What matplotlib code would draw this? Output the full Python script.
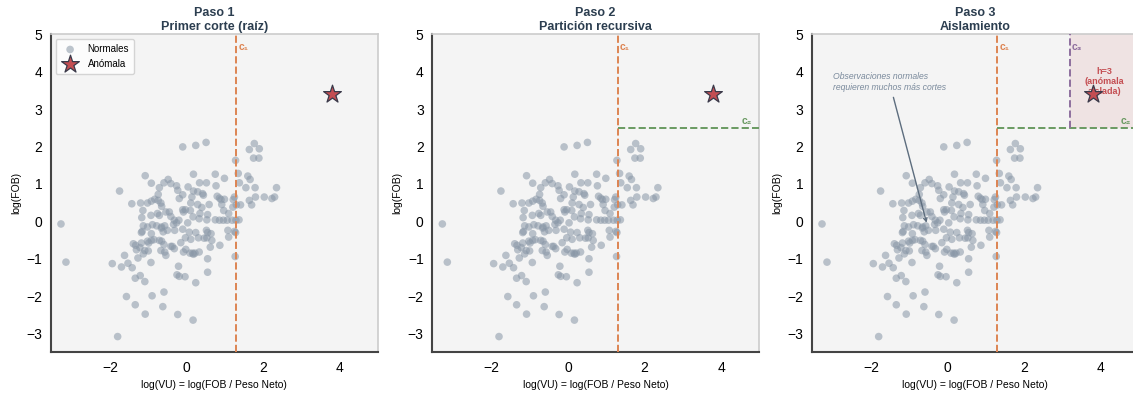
"""
Isolation forest intuition: three steps of recursive cuts on log(VU) vs log(FOB).
"""
import numpy as np
import matplotlib
matplotlib.use('Agg')
import matplotlib.pyplot as plt
from matplotlib.patches import Rectangle

plt.rcParams.update({
    'font.family': ['Liberation Sans'],
    'font.size': 9,
})

# normal observations (log VU, log FOB)
normal_x = [
    -3.28, -3.15, -1.75, -1.80, -1.94, -1.70, -1.62, -1.53, -1.42, -1.57,
    -1.34, -1.21, -1.09, -1.34, -1.08, -0.90, -0.93, -0.62, -0.59, -0.23,
    0.17, 0.24, -0.21, -0.25, -0.19, -0.04, 0.55, 0.55, -0.10, 0.24,
    0.51, 1.27, 1.28, 1.28, 1.64, 1.77, 1.90, 1.75, 1.89, 1.35,
    1.60, 1.66, 1.38, 1.55, 1.79, 1.80, 2.03, 2.23, 2.30, 2.35,
    1.64, 1.70, 1.41, 1.37, 1.25, 1.22, 1.21, 1.19, 1.06, 1.10,
    0.97, 0.86, 1.08, 1.10, 0.87, 0.99, 0.75, 0.77, 0.80, 0.86,
    0.90, 0.99, 0.92, 0.96, 0.75, 0.64, 0.66, 0.62, 0.52, 0.55,
    0.53, 0.55, 0.59, 0.52, 0.34, 0.18, 0.42, 0.44, 0.29, 0.18,
    0.04, 0.14, 0.11, 0.29, 0.40, 0.35, 0.33, 0.17, 0.10, -0.10,
    -0.03, -0.08, -0.10, -0.23, -0.26, -0.41, -0.48, -0.59, -0.71, -0.74,
    -0.74, -0.67, -0.65, -0.83, -0.92, -1.02, -1.20, -1.43, -1.08, -0.92,
    -0.19, -0.45, -0.54, -0.41, -0.32, -0.20, -0.26, -0.34, -0.31, -0.50,
    -0.66, -0.65, -0.61, -0.57, -0.71, -0.76, -0.93, -1.14, -1.17, -1.13,
    -1.16, -1.18, -1.02, -0.89, -0.78, -0.92, -0.85, -1.02, -0.99, -0.92,
    -0.71, -0.65, -0.59, -0.67, -0.57, -0.54, -0.41, -0.32, -0.37, -0.15,
    -0.03, 0.11, 0.07, -0.10, 0.03, 0.24, 0.31, 0.46, 0.53, -0.02,
    -0.08, 0.09, 0.18, 0.22, 0.16, 0.33, -1.18, -1.09, -1.00, -1.22,
    -1.33, -1.39, -1.27, -1.13, -1.31, 1.29, 1.25, 1.30,
]
normal_y = [
    -0.07, -1.09, 0.81, -3.08, -1.13, -1.22, -0.91, -1.12, -1.24, -2.01,
    -1.52, -1.45, -1.61, -2.23, -2.48, -1.99, -1.10, -2.28, -1.89, -2.49,
    -2.64, -1.64, -1.20, -1.43, -1.47, -1.48, -1.36, -1.00, 1.99, 2.03,
    2.11, -0.94, -0.30, 1.63, 1.92, 2.08, 1.94, 1.69, 1.69, 1.28,
    1.21, 1.12, 1.03, 0.90, 0.90, 0.65, 0.65, 0.61, 0.65, 0.90,
    0.56, 0.44, 0.44, 0.04, 0.65, 0.58, 0.38, 0.03, 0.03, 0.21,
    0.29, 0.03, -0.24, -0.42, -0.64, 1.15, 1.26, 0.95, 0.67, 0.62,
    0.58, 0.59, 0.45, 0.03, 0.04, -0.33, -0.51, -0.69, -0.24, -0.30,
    0.04, 0.18, 0.45, 1.03, 1.03, 1.26, 0.74, 0.70, 0.79, 0.81,
    0.92, 0.65, 0.49, 0.45, 0.37, 0.21, 0.07, 0.12, 0.29, 0.31,
    0.31, 0.25, 0.71, 0.83, 0.95, 1.01, 1.12, 1.03, 0.90, 0.72,
    0.56, 0.49, 0.40, 0.59, 0.54, 0.49, 0.49, 0.47, 1.22, 1.02,
    0.61, 0.25, 0.25, 0.13, 0.03, 0.03, -0.04, -0.08, -0.24, -0.24,
    -0.18, -0.15, -0.28, -0.12, 0.16, 0.21, 0.16, 0.29, 0.10, -0.12,
    -0.27, -0.30, -0.15, -0.09, -0.12, -0.33, -0.49, -0.53, -0.58, -0.51,
    -0.51, -0.53, -0.62, -0.78, -0.82, -0.91, -0.67, -0.73, -0.67, -0.57,
    -0.44, -0.48, -0.29, -0.21, -0.04, -0.30, -0.44, -0.45, -0.44, -0.75,
    -0.82, -0.85, -0.88, -0.85, -0.85, -0.82, -0.58, -0.78, -0.79, -0.70,
    -0.64, -0.60, -0.98, -0.87, -0.76, 0.03, -0.27, 0.44,
]
anomaly = (3.8, 3.4)

# split values
c1 = 1.3   # vertical cut on log(VU)
c2 = 2.5   # horizontal cut on log(FOB), right of c1
c3 = 3.2   # vertical cut, above c2

titles = ['Paso 1\nPrimer corte (raíz)', 'Paso 2\nPartición recursiva',
          'Paso 3\nAislamiento']

XLIM = (-3.55, 5.0)
YLIM = (-3.5, 5.0)
C_NORMAL = '#8896a6'
C_ANOM = '#c44e52'
C1_COL = '#dd8452'
C2_COL = '#6a9a62'
C3_COL = '#8e6f9e'
TITLE_COL = '#2c3e50'

fig = plt.figure(figsize=(11.33, 3.96), dpi=100)
lefts = [0.0447, 0.3813, 0.7164]
axes = [fig.add_axes([l, 0.1104, 0.2889, 0.803]) for l in lefts]

for i, ax in enumerate(axes):
    ax.set_facecolor('#f4f4f4')
    ax.scatter(normal_x, normal_y, s=30, color=C_NORMAL, alpha=0.55,
               edgecolors='none', label='Normales', zorder=2)
    ax.scatter([anomaly[0]], [anomaly[1]], s=180, marker='*', color=C_ANOM,
               edgecolors='#3a3a4a', linewidths=0.9, label='Anómala', zorder=5)

    # cut c1
    ax.axvline(c1, color=C1_COL, ls='--', lw=1.4, zorder=3)
    ax.text(c1 + 0.05, 4.65, 'c₁', color=C1_COL, fontsize=7.5,
            fontweight='bold', ha='left', va='center')

    if i >= 1:
        ax.plot([c1, XLIM[1]], [c2, c2], color=C2_COL, ls='--', lw=1.4, zorder=3)
        ax.text(4.8, c2 + 0.18, 'c₂', color=C2_COL, fontsize=7.5,
                fontweight='bold', ha='right', va='center')

    if i == 2:
        ax.add_patch(Rectangle((c3, c2), XLIM[1] - c3, YLIM[1] - c2,
                               facecolor=C_ANOM, alpha=0.1, edgecolor='none',
                               zorder=1))
        ax.plot([c3, c3], [c2, YLIM[1]], color=C3_COL, ls='--', lw=1.4, zorder=3)
        ax.text(c3 + 0.05, 4.65, 'c₃', color=C3_COL, fontsize=7.5,
                fontweight='bold', ha='left', va='center')
        ax.text(4.1, 3.74, 'h=3\n(anómala\naislada)', color=C_ANOM,
                fontsize=6.5, fontweight='bold', ha='center', va='center',
                zorder=4)
        ax.annotate('Observaciones normales\nrequieren muchos más cortes',
                    xy=(-0.53, -0.11), xytext=(-1.52, 3.72),
                    fontsize=6.2, style='italic', color='#7a8a9c',
                    ha='center', va='center', multialignment='left',
                    arrowprops=dict(arrowstyle='->', color='#5d6d7e', lw=1))

    ax.set_xlim(*XLIM)
    ax.set_ylim(*YLIM)
    ax.set_xticks([-2, 0, 2, 4])
    ax.set_yticks(range(-3, 6))
    ax.tick_params(length=0, labelsize=10, pad=6)
    ax.set_xlabel('log(VU) = log(FOB / Peso Neto)', fontsize=7.5)
    ax.set_ylabel('log(FOB)', fontsize=7.5)
    ax.set_title(titles[i], fontsize=9, fontweight='bold', color=TITLE_COL,
                 pad=3)
    for side in ['left', 'bottom']:
        ax.spines[side].set_color('#444444')
        ax.spines[side].set_linewidth(1.5)
    for side in ['top', 'right']:
        ax.spines[side].set_color('#cccccc')
        ax.spines[side].set_linewidth(1.2)

    if i == 0:
        ax.legend(loc='upper left', fontsize=7, frameon=True,
                  facecolor='white', edgecolor='#cccccc', borderpad=0.5,
                  handletextpad=0.8)

fig.savefig('out.png', dpi=100)
